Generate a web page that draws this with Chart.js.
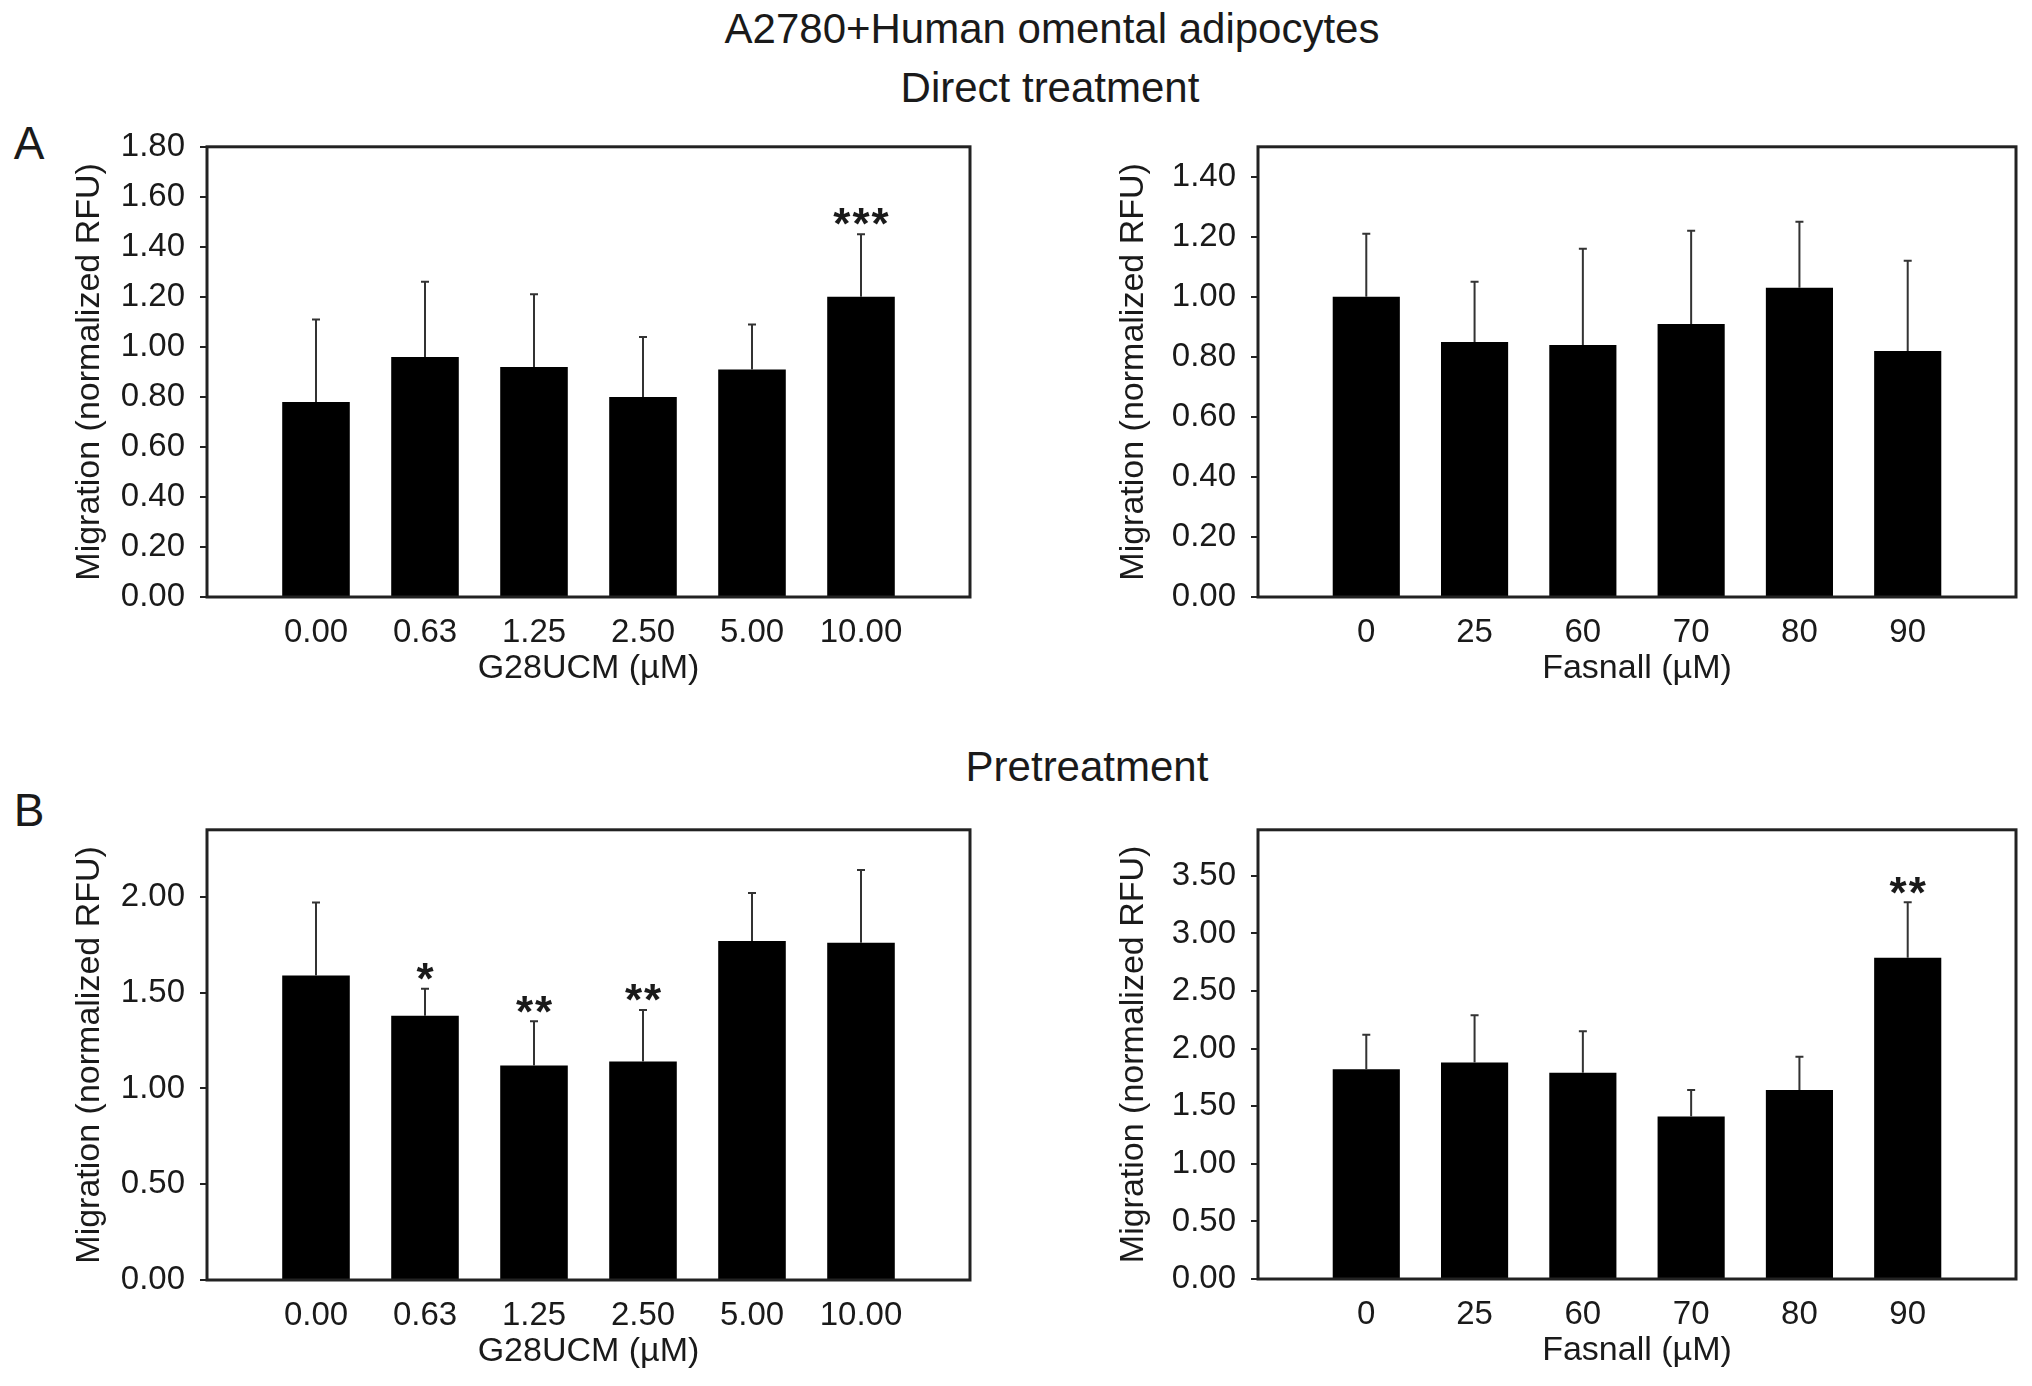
<!DOCTYPE html>
<html>
<head>
<meta charset="utf-8">
<script src="https://cdn.jsdelivr.net/npm/chart.js@4.4.0/dist/chart.umd.min.js"></script>
<style>
  body { margin: 0; background: #fff; }
  #page { position: relative; width: 2032px; height: 1386px; overflow: hidden;
          font-family: "Liberation Sans", Arial, Helvetica, sans-serif; color: #1a1a1a; }
  .txt { position: absolute; white-space: nowrap; transform: translate(-50%, -50%); }
  .head { font-size: 42px; }
  .panel { font-size: 46px; }
  canvas { position: absolute; }
</style>
</head>
<body>
<div id="page">
  <div class="txt head" style="left:1052px; top:29px;">A2780+Human omental adipocytes</div>
  <div class="txt head" style="left:1050px; top:88px;">Direct treatment</div>
  <div class="txt head" style="left:1087px; top:767px;">Pretreatment</div>
  <div class="txt panel" style="left:29px; top:143px;">A</div>
  <div class="txt panel" style="left:29px; top:810px;">B</div>
  <canvas id="c1"></canvas>
  <canvas id="c2"></canvas>
  <canvas id="c3"></canvas>
  <canvas id="c4"></canvas>
</div>
<script>
// categorias
const doseG28 = ['0.00', '0.63', '1.25', '2.50', '5.00', '10.00'];
const doseFas = ['0', '25', '60', '70', '80', '90'];

// A - direct treatment
const directG28 = [0.78, 0.96, 0.92, 0.80, 0.91, 1.20];
const directG28Sd = [0.33, 0.30, 0.29, 0.24, 0.18, 0.25];
const directG28Sig = ['', '', '', '', '', '***'];
const directFas = [1.00, 0.85, 0.84, 0.91, 1.03, 0.82];
const directFasSd = [0.21, 0.20, 0.32, 0.31, 0.22, 0.30];
const directFasSig = ['', '', '', '', '', ''];

// B - pretreatment
const preG28 = [1.59, 1.38, 1.12, 1.14, 1.77, 1.76];
const preG28Sd = [0.38, 0.14, 0.23, 0.27, 0.25, 0.38];
const preG28Sig = ['', '*', '**', '**', '', ''];
const preFas = [1.82, 1.88, 1.79, 1.41, 1.64, 2.79];
const preFasSd = [0.30, 0.41, 0.36, 0.23, 0.29, 0.48];
const preFasSig = ['', '', '', '', '', '**'];

// ticks do eixo Y
const ticksDirectG28 = [0, 0.2, 0.4, 0.6, 0.8, 1.0, 1.2, 1.4, 1.6, 1.8];
const ticksDirectFas = [0, 0.2, 0.4, 0.6, 0.8, 1.0, 1.2, 1.4];
const ticksPreG28 = [0, 0.5, 1.0, 1.5, 2.0];
const ticksPreFas = [0, 0.5, 1.0, 1.5, 2.0, 2.5, 3.0, 3.5];

const FONT = '"Liberation Sans", Arial, Helvetica, sans-serif';
const INK = '#1a1a1a';

// barras de erro (so para cima) + asteriscos
const errorBars = {
    id: 'errorBars',
    afterDatasetsDraw(chart, args, opts) {
        const ctx = chart.ctx;
        const y = chart.scales.y;
        const meta = chart.getDatasetMeta(0);
        const vals = chart.data.datasets[0].data;
        ctx.save();
        ctx.strokeStyle = '#333';
        ctx.lineWidth = 2;
        meta.data.forEach((bar, i) => {
            const top = y.getPixelForValue(vals[i].y + opts.sd[i]);
            ctx.beginPath();
            ctx.moveTo(bar.x, bar.y);
            ctx.lineTo(bar.x, top);
            ctx.moveTo(bar.x - 4, top);
            ctx.lineTo(bar.x + 4, top);
            ctx.stroke();
            if (opts.sig[i]) {
                ctx.fillStyle = INK;
                ctx.font = 'bold 44px ' + FONT;
                ctx.letterSpacing = '2px';
                ctx.textAlign = 'center';
                ctx.textBaseline = 'top';
                ctx.fillText(opts.sig[i], bar.x + 1, top - 29);
            }
        });
        ctx.restore();
    }
};

// moldura do grafico
const frame = {
    id: 'frame',
    afterDraw(chart) {
        const a = chart.chartArea;
        const ctx = chart.ctx;
        ctx.save();
        ctx.strokeStyle = '#222';
        ctx.lineWidth = 3;
        ctx.strokeRect(a.left, a.top, a.right - a.left, a.bottom - a.top);
        ctx.restore();
    }
};

function makeChart(id, box, yW, labels, values, sd, sig, yTicks, yMax, xTitle) {
    const padTop = 30, padRight = 16, xH = 92;
    const cv = document.getElementById(id);
    const left = box.l - yW, top = box.t - padTop;
    cv.width = box.r + padRight - left;
    cv.height = box.b + xH - top;
    cv.style.left = left + 'px';
    cv.style.top = top + 'px';

    new Chart(cv, {
        type: 'bar',
        data: {
            datasets: [{
                data: values.map((v, i) => ({ x: i, y: v })),
                backgroundColor: '#000',
                borderWidth: 0,
                barPercentage: 0.62,
                categoryPercentage: 1.0
            }]
        },
        options: {
            responsive: false,
            animation: false,
            devicePixelRatio: 1,
            layout: { padding: { top: padTop, right: padRight, left: 0, bottom: 0 } },
            plugins: {
                legend: { display: false },
                tooltip: { enabled: false },
                errorBars: { sd: sd, sig: sig }
            },
            scales: {
                x: {
                    type: 'linear',
                    offset: false,
                    min: -1,
                    max: labels.length,
                    afterBuildTicks: s => { s.ticks = labels.map((_, i) => ({ value: i })); },
                    afterFit: s => { s.height = xH; },
                    grid: { display: false, drawTicks: false },
                    border: { display: false },
                    ticks: {
                        padding: 16,
                        color: INK,
                        font: { size: 33, family: FONT },
                        maxRotation: 0,
                        autoSkip: false,
                        callback: v => labels[v]
                    },
                    title: {
                        display: true,
                        text: xTitle,
                        color: INK,
                        font: { size: 34, family: FONT },
                        padding: 0
                    }
                },
                y: {
                    min: 0,
                    max: yMax,
                    afterBuildTicks: s => { s.ticks = yTicks.map(v => ({ value: v })); },
                    afterFit: s => { s.width = yW; },
                    grid: {
                        drawOnChartArea: false,
                        drawTicks: true,
                        tickLength: 7,
                        lineWidth: 2,
                        color: '#222'
                    },
                    border: { display: false },
                    ticks: {
                        padding: 15,
                        color: INK,
                        font: { size: 33, family: FONT },
                        callback: v => v.toFixed(2)
                    },
                    title: {
                        display: true,
                        text: 'Migration (normalized RFU)',
                        color: INK,
                        font: { size: 34, family: FONT },
                        padding: 0
                    }
                }
            }
        },
        plugins: [errorBars, frame]
    });
}

makeChart('c1', { l: 207, t: 142, r: 970, b: 597 }, 138, doseG28, directG28, directG28Sd, directG28Sig,
    ticksDirectG28, 1.8, 'G28UCM (\u00b5M)');
makeChart('c2', { l: 1258, t: 142, r: 2016, b: 597 }, 145, doseFas, directFas, directFasSd, directFasSig,
    ticksDirectFas, 1.5, 'Fasnall (\u00b5M)');
makeChart('c3', { l: 207, t: 825, r: 970, b: 1280 }, 138, doseG28, preG28, preG28Sd, preG28Sig,
    ticksPreG28, 2.35, 'G28UCM (\u00b5M)');
makeChart('c4', { l: 1258, t: 825, r: 2016, b: 1279 }, 145, doseFas, preFas, preFasSd, preFasSig,
    ticksPreFas, 3.9, 'Fasnall (\u00b5M)');
</script>
</body>
</html>
